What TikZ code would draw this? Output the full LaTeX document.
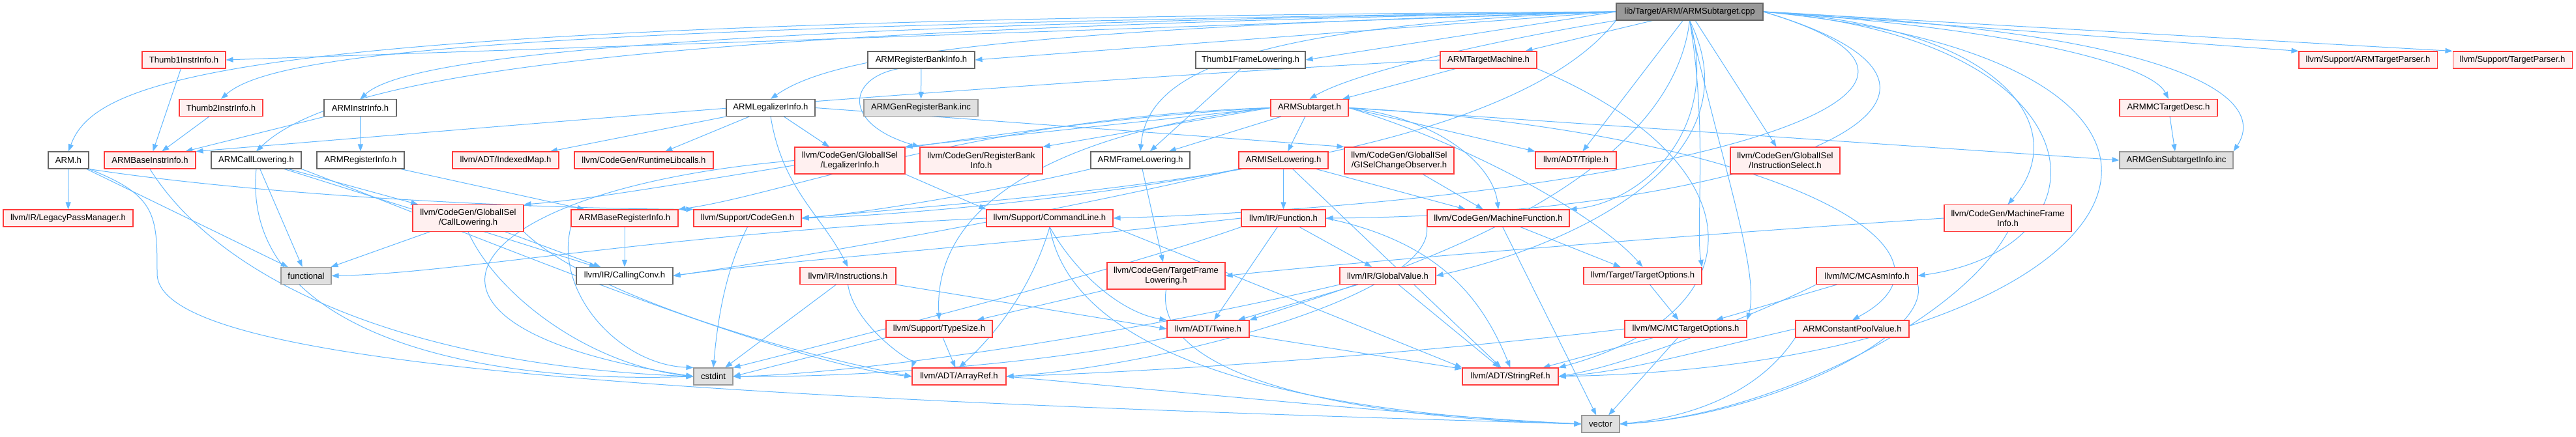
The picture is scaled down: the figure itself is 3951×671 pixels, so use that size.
\documentclass[tikz,border=0pt]{standalone}
\usepackage{fontspec}
\setmainfont{Liberation Sans}
\usetikzlibrary{arrows.meta,backgrounds}
\definecolor{edgec}{HTML}{63B8FF}
\definecolor{redb}{HTML}{FF3B3B}
\definecolor{redf}{HTML}{FFF0F0}
\definecolor{grayb}{HTML}{666666}
\definecolor{fillb}{HTML}{999999}
\definecolor{fillf}{HTML}{E0E0E0}
\definecolor{rootf}{HTML}{999999}
\definecolor{rootb}{HTML}{666666}
\newcommand\nodefnt{\fontsize{13.1bp}{15bp}\selectfont}
\tikzset{
 nb/.style={draw, line width=1.1bp, inner sep=0pt, font=\nodefnt, align=center, minimum height=26bp},
 redn/.style={nb, draw=redb, fill=redf},
 grayn/.style={nb, draw=grayb, fill=white},
 filln/.style={nb, draw=fillb, fill=fillf},
 rootn/.style={nb, draw=rootb, fill=rootf},
 two/.style={minimum height=41bp},
 edg/.style={draw=edgec, line width=1bp, -{Triangle[length=11bp,width=8bp]}},
}
\begin{document}
\begin{tikzpicture}[x=1bp,y=-1bp]
\useasboundingbox (0,0) rectangle (3951,671);
% row 0
\node[rootn, minimum width=225bp] (cpp) at (2591.5,18) {lib/Target/ARM/ARMSubtarget.cpp};
% row 1
\node[redn, minimum width=128bp] (t1ii) at (282,92) {Thumb1InstrInfo.h};
\node[grayn, minimum width=164bp] (armrbi) at (1413,92) {ARMRegisterBankInfo.h};
\node[grayn, minimum width=168bp] (t1fl) at (1918,92) {Thumb1FrameLowering.h};
\node[redn, minimum width=148bp] (armtm) at (2283,92) {ARMTargetMachine.h};
\node[redn, minimum width=212bp] (armtp) at (3632,92) {llvm/Support/ARMTargetParser.h};
\node[redn, minimum width=183bp] (tp) at (3853.5,92) {llvm/Support/TargetParser.h};
% row 2
\node[redn, minimum width=128bp] (t2ii) at (339,165.5) {Thumb2InstrInfo.h};
\node[grayn, minimum width=111bp] (armii) at (552.5,165.5) {ARMInstrInfo.h};
\node[grayn, minimum width=136bp] (armli) at (1182,165.5) {ARMLegalizerInfo.h};
\node[filln, minimum width=175bp] (genrb) at (1412.5,165.5) {ARMGenRegisterBank.inc};
\node[redn, minimum width=119bp] (armst) at (2008.5,165.5) {ARMSubtarget.h};
\node[redn, minimum width=150bp] (mctd) at (3326,165.5) {ARMMCTargetDesc.h};
% row 3
\node[grayn, minimum width=62bp] (armh) at (105,246) {ARM.h};
\node[redn, minimum width=140bp] (armbii) at (230,246) {ARMBaseInstrInfo.h};
\node[grayn, minimum width=138bp] (armcl) at (393,246) {ARMCallLowering.h};
\node[grayn, minimum width=134bp] (armri) at (553,246) {ARMRegisterInfo.h};
\node[redn, minimum width=163bp] (idxmap) at (775.5,246) {llvm/ADT/IndexedMap.h};
\node[redn, minimum width=213bp] (rtlib) at (987.5,246) {llvm/CodeGen/RuntimeLibcalls.h};
\node[redn, two, minimum width=169bp] (legi) at (1303.5,246.5) {llvm/CodeGen/GlobalISel\\/LegalizerInfo.h};
\node[redn, two, minimum width=188bp] (rbi) at (1505,246.5) {llvm/CodeGen/RegisterBank\\Info.h};
\node[grayn, minimum width=152bp] (armfl) at (1749,246) {ARMFrameLowering.h};
\node[redn, minimum width=137bp] (armisel) at (1968.5,246) {ARMISelLowering.h};
\node[redn, two, minimum width=168bp] (gisel) at (2146,246.5) {llvm/CodeGen/GlobalISel\\/GISelChangeObserver.h};
\node[redn, minimum width=124bp] (triple) at (2417,246) {llvm/ADT/Triple.h};
\node[redn, two, minimum width=168bp] (isel) at (2738,246.5) {llvm/CodeGen/GlobalISel\\/InstructionSelect.h};
\node[filln, minimum width=174bp] (gensti) at (3338,246) {ARMGenSubtargetInfo.inc};
% row 4
\node[redn, minimum width=199bp] (lpm) at (104.5,335) {llvm/IR/LegacyPassManager.h};
\node[redn, two, minimum width=170bp] (cl) at (718,335) {llvm/CodeGen/GlobalISel\\/CallLowering.h};
\node[redn, minimum width=164bp] (armbri) at (958,335) {ARMBaseRegisterInfo.h};
\node[redn, minimum width=165bp] (cg) at (1146.5,335) {llvm/Support/CodeGen.h};
\node[redn, minimum width=194bp] (cmdl) at (1610,335) {llvm/Support/CommandLine.h};
\node[redn, minimum width=129bp] (func) at (1968.5,335) {llvm/IR/Function.h};
\node[redn, minimum width=218bp] (mf) at (2298,335) {llvm/CodeGen/MachineFunction.h};
\node[redn, two, minimum width=195bp] (mfi) at (3079.5,335) {llvm/CodeGen/MachineFrame\\Info.h};
% row 5
\node[filln, minimum width=77bp] (functional) at (469.5,423.5) {functional};
\node[grayn, minimum width=148bp] (cc) at (958,423.5) {llvm/IR/CallingConv.h};
\node[redn, minimum width=147bp] (instr) at (1300.5,423.5) {llvm/IR/Instructions.h};
\node[redn, two, minimum width=181bp] (tfl) at (1788.5,423.5) {llvm/CodeGen/TargetFrame\\Lowering.h};
\node[redn, minimum width=147bp] (gv) at (2128.5,423.5) {llvm/IR/GlobalValue.h};
\node[redn, minimum width=181bp] (topt) at (2519.5,423.5) {llvm/Target/TargetOptions.h};
\node[redn, minimum width=155bp] (mcai) at (2863.5,423.5) {llvm/MC/MCAsmInfo.h};
% row 6
\node[redn, minimum width=163bp] (ts) at (1440.5,505) {llvm/Support/TypeSize.h};
\node[redn, minimum width=126bp] (twine) at (1853,505) {llvm/ADT/Twine.h};
\node[redn, minimum width=187bp] (mcto) at (2585.5,505) {llvm/MC/MCTargetOptions.h};
\node[redn, minimum width=174bp] (cpv) at (2841,505) {ARMConstantPoolValue.h};
% row 7
\node[filln, minimum width=60bp] (cstdint) at (1094,578) {cstdint};
\node[redn, minimum width=144bp] (aref) at (1471,578) {llvm/ADT/ArrayRef.h};
\node[redn, minimum width=147bp] (sref) at (2316.5,578) {llvm/ADT/StringRef.h};
% row 8
\node[filln, minimum width=58bp] (vector) at (2455,651) {vector};

\begin{scope}[on background layer]
% from cpp
\draw[edg] (cpp.west) .. controls (400,30) and (150,110) .. (armh.north);
\draw[edg] (cpp.west) -- (t1ii.east);
\draw[edg] (cpp.west) .. controls (800,40) and (420,80) .. (t2ii.north);
\draw[edg] (cpp.west) .. controls (1000,45) and (520,110) .. (armcl.north);
\draw[edg] (cpp.west) .. controls (1000,40) and (620,90) .. (armii.north);
\draw[edg] (cpp.west) .. controls (1500,45) and (1270,90) .. (armli.north);
\draw[edg] (cpp.west) -- (armrbi.east);
\draw[edg] (cpp.west) -- (t1fl.east);
\draw[edg] (cpp) -- (armtm);
\draw[edg] (cpp.south west) .. controls (2300,60) and (2080,110) .. (armst.north);
\draw[edg] (cpp.west) .. controls (1880,40) and (1760,120) .. (armfl.north);
\draw[edg] (cpp) -- (triple);
\draw[edg] (cpp) -- (isel);
\draw[edg] (cpp.east) .. controls (3080,40) and (3180,200) .. (mfi.north);
\draw[edg] (cpp.south) .. controls (2640,200) and (2520,310) .. (mf.north east);
\draw[edg] (cpp.south) .. controls (2700,250) and (2400,380) .. (gv.east);
\draw[edg] (cpp.east) .. controls (3230,60) and (3250,380) .. (mcai.east);
\draw[edg] (cpp.south) .. controls (2640,250) and (2700,420) .. (mcto.north east);
\draw[edg] (cpp.south) .. controls (2620,200) and (2600,350) .. (topt.north east);
\draw[edg] (cpp.east) .. controls (3100,45) and (3300,100) .. (mctd.north);
\draw[edg] (cpp.east) .. controls (3350,50) and (3480,150) .. (gensti.north east);
\draw[edg] (cpp.east) -- (armtp.north west);
\draw[edg] (cpp.east) -- (tp.north west);
\draw[edg] (cpp.east) .. controls (3150,150) and (2500,310) .. (cmdl.east);
\draw[edg] (cpp.east) .. controls (3150,150) and (2700,330) .. (func.east);
\draw[edg] (cpp.east) .. controls (3550,100) and (3300,560) .. (sref.east);
\draw[edg] (cpp.south) .. controls (2560,300) and (2100,430) .. (twine.north east);
\draw[edg] (cpp.south west) .. controls (2300,260) and (1600,300) .. (cg.east);
% second level
\draw[edg] (t1ii) -- (armbii);
\draw[edg] (t2ii) -- (armbii);
\draw[edg] (armii) -- (armbii);
\draw[edg] (armii) -- (armri);
\draw[edg] (armtm.west) .. controls (1500,130) and (700,200) .. (armbii.north east);
\draw[edg] (armtm) -- (armst);
\draw[edg] (armtm.south east) .. controls (2700,250) and (2700,480) .. (sref.north east);
\draw[edg] (armh) -- (lpm);
\draw[edg] (armh) -- (functional);
\draw[edg] (armh.south east) .. controls (400,300) and (800,320) .. (cg.north west);
\draw[edg] (armh.south east) .. controls (240,300) and (241,330) .. (241,420) .. controls (241,560) and (1000,610) .. (vector.west);
\draw[edg] (armbii.south) .. controls (330,420) and (600,560) .. (cstdint.west);
\draw[edg] (armcl) -- (functional);
\draw[edg] (armcl) -- (cc);
\draw[edg] (armcl) -- (cl);
\draw[edg] (armcl.south) .. controls (370,500) and (700,590) .. (cstdint.west);
\draw[edg] (armcl.south east) .. controls (700,350) and (1200,560) .. (aref.west);
\draw[edg] (armri) -- (armbri);
\draw[edg] (armli) -- (idxmap);
\draw[edg] (armli) -- (rtlib);
\draw[edg] (armli) -- (legi);
\draw[edg] (armli.south) .. controls (1200,290) and (1260,330) .. (instr.north);
\draw[edg] (armli.east) -- (gisel.north west);
\draw[edg] (armrbi) -- (genrb);
\draw[edg] ([xshift=-35bp]armrbi.south) .. controls (1300,120) and (1290,190) .. (rbi.north west);
\draw[edg] (t1fl) -- (armfl);
\draw[edg] (armst.west) .. controls (1500,180) and (1200,300) .. (armbri.north east);
\draw[edg] (armst.west) .. controls (1500,190) and (1000,300) .. (cl.north east);
\draw[edg] (armst.west) -- (legi.north east);
\draw[edg] (armst.west) -- (rbi.north east);
\draw[edg] (armst) -- (armfl);
\draw[edg] (armst) -- (armisel);
\draw[edg] (armst.east) -- (triple.north west);
\draw[edg] (armst.east) .. controls (2200,180) and (2290,250) .. (mf.north);
\draw[edg] (armst.east) .. controls (2250,220) and (2450,330) .. (topt.north);
\draw[edg] (armst.east) -- (gensti.west);
\draw[edg] (armst.east) .. controls (2700,200) and (3050,380) .. (cpv.north);
\draw[edg] (armst.west) .. controls (1650,200) and (1430,300) .. (ts.north);
\draw[edg] (armisel) -- (func);
\draw[edg] (armisel.south west) .. controls (1700,300) and (1400,330) .. (cg.east);
\draw[edg] (armisel.south west) .. controls (1600,330) and (1200,400) .. (cc.east);
\draw[edg] (armisel) -- (mf);
\draw[edg] (armisel) -- (sref);
\draw[edg] (gisel) -- (mf);
\draw[edg] (legi.south east) -- (cmdl.north west);
\draw[edg] (legi.west) .. controls (700,290) and (550,500) .. (cstdint.west);
\draw[edg] (armfl) -- (tfl);
\draw[edg] (armfl.south west) .. controls (1500,300) and (1300,330) .. (cg.east);
\draw[edg] (cl) -- (functional);
\draw[edg] (cl) -- (cc);
\draw[edg] (cl.south) .. controls (760,450) and (900,560) .. (cstdint.west);
\draw[edg] (cl.south east) .. controls (900,450) and (1200,540) .. (aref.west);
\draw[edg] (armbri) -- (cc);
\draw[edg] (armbri.south west) .. controls (850,450) and (950,560) .. (cstdint.north west);
\draw[edg] (cg.south) .. controls (1110,420) and (1100,500) .. (cstdint.north);
\draw[edg] (cmdl.west) .. controls (1000,360) and (700,420) .. (functional.east);
\draw[edg] (cmdl.south) .. controls (1580,450) and (1520,520) .. (aref.north);
\draw[edg] (cmdl.south east) -- (sref.north west);
\draw[edg] (cmdl.south) .. controls (1650,420) and (1720,480) .. (twine.north west);
\draw[edg] (cmdl.south) .. controls (1640,520) and (1900,630) .. (vector.west);
\draw[edg] (func) -- (twine);
\draw[edg] (func.west) .. controls (1500,380) and (1200,400) .. (cc.east);
\draw[edg] (func.east) .. controls (2200,370) and (2270,450) .. (sref.north);
\draw[edg] (func) -- (gv);
\draw[edg] (func.south west) .. controls (1700,420) and (1300,520) .. (cstdint.north east);
\draw[edg] (mf) -- (topt);
\draw[edg] (mf) -- (vector);
\draw[edg] (mf.south west) .. controls (2200,450) and (1800,560) .. (aref.east);
\draw[edg] (mfi.west) .. controls (2600,360) and (2100,400) .. (tfl.east);
\draw[edg] (mfi.south) .. controls (3000,500) and (2700,640) .. (vector.east);
\draw[edg] (instr) -- (cstdint);
\draw[edg] (instr.south) .. controls (1310,500) and (1400,560) .. (aref.north west);
\draw[edg] (instr.south east) -- (twine.west);
\draw[edg] (tfl) -- (ts);
\draw[edg] (tfl.south) .. controls (1770,560) and (2000,640) .. (vector.west);
\draw[edg] (gv) -- (sref);
\draw[edg] (gv) -- (twine);
\draw[edg] (gv.south west) .. controls (1700,520) and (1300,575) .. (cstdint.east);
\draw[edg] (topt) -- (mcto);
\draw[edg] (mcai) -- (mcto);
\draw[edg] (mcai.south west) .. controls (2700,480) and (2500,560) .. (sref.east);
\draw[edg] (mcai.south east) .. controls (2960,520) and (2700,640) .. (vector.east);
\draw[edg] (ts) -- (aref);
\draw[edg] (ts.south west) -- (cstdint.east);
\draw[edg] (twine) -- (sref);
\draw[edg] (twine.south west) .. controls (1600,560) and (1300,580) .. (cstdint.east);
\draw[edg] (mcto) -- (vector);
\draw[edg] (mcto.west) .. controls (2200,540) and (1800,570) .. (aref.east);
\draw[edg] (mcto) -- (sref);
\draw[edg] (cpv.west) .. controls (2600,540) and (2500,570) .. (sref.east);
\draw[edg] (cpv.south west) .. controls (2700,600) and (2600,640) .. (vector.east);
\draw[edg] (aref.east) .. controls (1900,610) and (2200,640) .. (vector.west);
\draw[edg] (mctd) -- (gensti);
\end{scope}
\end{tikzpicture}
\end{document}
